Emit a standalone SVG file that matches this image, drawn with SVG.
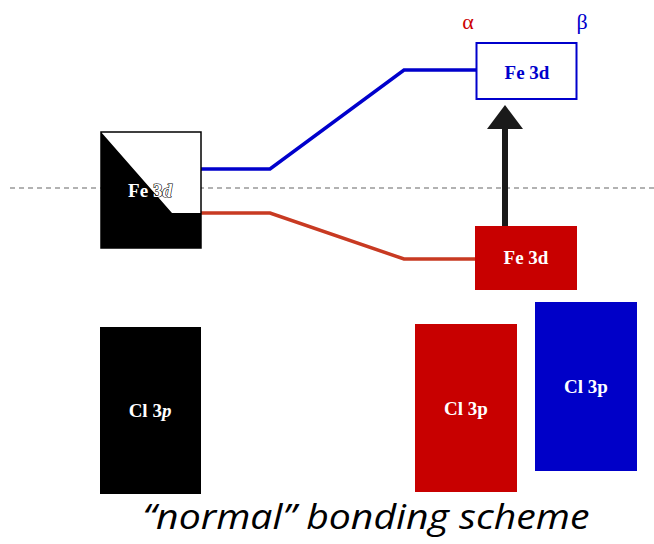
<svg xmlns="http://www.w3.org/2000/svg" width="654" height="544" viewBox="0 0 654 544">
  <style>
    .lbl { font-family: "Liberation Serif", "Times New Roman", serif; font-weight: bold; font-size: 19px; text-anchor: middle; fill: #fff; }
    .conn { fill: none; stroke-width: 3.5; }
  </style>
  <defs>
    <marker id="head" markerWidth="4" markerHeight="6" refX="0.5" refY="3" orient="auto" markerUnits="strokeWidth">
      <path d="M0,0 L4,3 L0,6 Z" fill="#1a1a1a"/>
    </marker>
  </defs>
  <rect width="654" height="544" fill="#fff"/>

  <!-- Fermi level -->
  <line x1="10" y1="188" x2="654" y2="188" stroke="#666" stroke-width="1.2" stroke-dasharray="5,4"/>

  <g id="connectors">
    <polyline class="conn" stroke="#0000cc" points="201,169 270,169 404,70 476,70"/>
    <polyline class="conn" stroke="#c83a22" points="201,213 270,213 404,259 476,259"/>
    <line x1="505" y1="232" x2="505" y2="126" stroke="#1a1a1a" stroke-width="6" marker-end="url(#head)"/>
  </g>

  <g id="fe3d-left">
    <rect x="101" y="132" width="100" height="116" fill="#fff" stroke="#000" stroke-width="1.5"/>
    <polygon points="101,132 172,213 201,213 201,248 101,248" fill="#000"/>
    <text class="lbl" x="150" y="197" stroke="#000" stroke-width="1.2" paint-order="stroke">Fe 3<tspan font-style="italic">d</tspan></text>
  </g>

  <g id="cl3p-left">
    <rect x="100" y="327" width="101" height="167" fill="#000"/>
    <text class="lbl" x="150" y="417">Cl 3<tspan font-style="italic">p</tspan></text>
  </g>

  <g id="spin-labels">
    <text x="468" y="29" font-family="'Liberation Serif', serif" font-size="22" fill="#cc0000" text-anchor="middle">α</text>
    <text x="582" y="29" font-family="'Liberation Serif', serif" font-size="22" fill="#0000cc" text-anchor="middle">β</text>
  </g>

  <g id="fe3d-beta">
    <rect x="476.5" y="43" width="100" height="56" fill="#fff" stroke="#0000cc" stroke-width="2"/>
    <text class="lbl" x="527" y="79" style="fill:#0000cc">Fe 3d</text>
  </g>

  <g id="fe3d-alpha">
    <rect x="475" y="226" width="102" height="64" fill="#c80000"/>
    <text class="lbl" x="526" y="264">Fe 3d</text>
  </g>

  <g id="cl3p-alpha">
    <rect x="415" y="324" width="102" height="168" fill="#c80000"/>
    <text class="lbl" x="466" y="415">Cl 3p</text>
  </g>

  <g id="cl3p-beta">
    <rect x="535" y="302" width="102" height="169" fill="#0000c8"/>
    <text class="lbl" x="586" y="393">Cl 3p</text>
  </g>

  <text x="366" y="529" font-family="'Open Sans', 'Liberation Sans', sans-serif" font-style="italic" font-size="34" fill="#000" text-anchor="middle" textLength="447" lengthAdjust="spacingAndGlyphs">“normal” bonding scheme</text>
</svg>
